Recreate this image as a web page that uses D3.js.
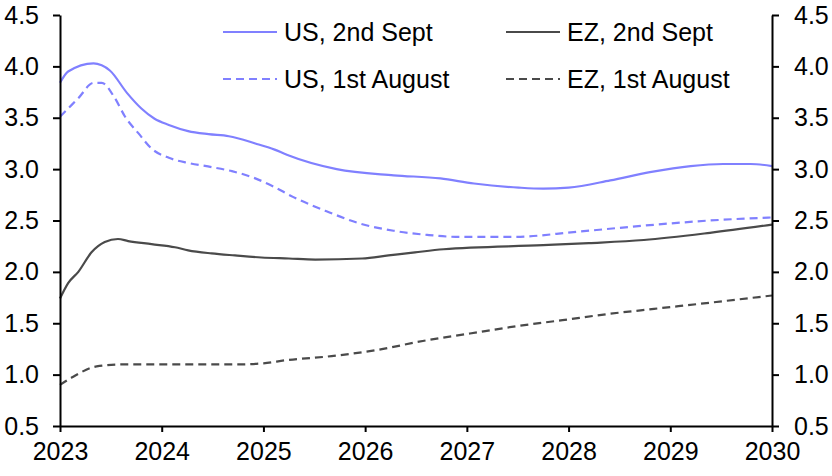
<!DOCTYPE html>
<html>
<head>
<meta charset="utf-8">
<script src="https://cdn.jsdelivr.net/npm/d3@7"></script>
<style>
  body { margin: 0; background: #fff; }
  text { font-family: "Liberation Sans", Arial, sans-serif; }
</style>
</head>
<body>
<script>
// Størrelse på svg
const w = 832;
const h = 476;
const margin = { top: 15, right: 60, bottom: 50, left: 60 };

// Data: [år, værdi]
const usSept = [
  [2023.0, 3.84], [2023.08, 3.95], [2023.33, 4.03], [2023.41, 4.01], [2023.49, 3.96],
  [2023.66, 3.74], [2023.80, 3.59], [2023.93, 3.49], [2024.07, 3.43], [2024.26, 3.37],
  [2024.46, 3.34], [2024.66, 3.32], [2024.92, 3.25], [2025.11, 3.19], [2025.23, 3.14],
  [2025.72, 3.00], [2026.28, 2.94], [2026.74, 2.91], [2027.07, 2.86], [2027.51, 2.82],
  [2027.75, 2.81], [2028.0, 2.82], [2028.41, 2.89], [2028.80, 2.97], [2029.20, 3.03],
  [2029.52, 3.05], [2029.79, 3.05], [2030.0, 3.03]
];
const usAug = [
  [2023.0, 3.51], [2023.18, 3.69], [2023.33, 3.84], [2023.41, 3.84], [2023.54, 3.69],
  [2023.64, 3.51], [2023.77, 3.35], [2023.90, 3.20], [2024.07, 3.11], [2024.26, 3.06],
  [2024.49, 3.02], [2024.69, 2.98], [2024.92, 2.91], [2025.10, 2.83], [2025.29, 2.73],
  [2025.62, 2.59], [2025.95, 2.47], [2026.28, 2.40], [2026.61, 2.36], [2026.93, 2.34],
  [2027.45, 2.34], [2028.08, 2.39], [2028.74, 2.45], [2029.39, 2.50], [2030.0, 2.53]
];
const ezSept = [
  [2023.0, 1.74], [2023.08, 1.89], [2023.18, 2.00], [2023.31, 2.19], [2023.44, 2.29],
  [2023.57, 2.32], [2023.67, 2.30], [2023.90, 2.27], [2024.13, 2.24], [2024.26, 2.21],
  [2024.49, 2.18], [2024.72, 2.16], [2024.98, 2.14], [2025.25, 2.13], [2025.51, 2.12],
  [2025.97, 2.13], [2026.23, 2.16], [2026.49, 2.19], [2026.77, 2.22], [2027.75, 2.26],
  [2028.2, 2.28], [2028.74, 2.31], [2029.39, 2.38], [2030.0, 2.46]
];
const ezAug = [
  [2023.0, 0.90], [2023.13, 0.98], [2023.36, 1.08], [2023.63, 1.10], [2024.31, 1.10],
  [2024.76, 1.10], [2025.0, 1.11], [2025.22, 1.14], [2025.67, 1.18], [2026.12, 1.24],
  [2026.58, 1.33], [2027.03, 1.40], [2027.48, 1.47], [2027.94, 1.53], [2028.39, 1.59],
  [2028.84, 1.64], [2029.30, 1.69], [2030.0, 1.77]
];

const yearTicks = [2023, 2024, 2025, 2026, 2027, 2028, 2029, 2030];
const valueTicks = [0.5, 1.0, 1.5, 2.0, 2.5, 3.0, 3.5, 4.0, 4.5];

const seriesNames = ["US, 2nd Sept", "US, 1st August", "EZ, 2nd Sept", "EZ, 1st August"];
const blue = "#8080ff";
const grey = "#4a4a4a";

const series = [
  { name: seriesNames[0], data: usSept, color: blue, dash: null },
  { name: seriesNames[1], data: usAug, color: blue, dash: "8,5" },
  { name: seriesNames[2], data: ezSept, color: grey, dash: null },
  { name: seriesNames[3], data: ezAug, color: grey, dash: "8,5" }
];

const svg = d3.select("body").append("svg").attr("width", w).attr("height", h);

const xScale = d3.scaleLinear()
  .domain([2023, 2030])
  .range([margin.left, w - margin.right]);

const yScale = d3.scaleLinear()
  .domain([0.5, 4.5])
  .range([h - margin.bottom, margin.top]);

const line = d3.line()
  .x(d => xScale(d[0]))
  .y(d => yScale(d[1]))
  .curve(d3.curveMonotoneX);

// Linjer
svg.selectAll("path.serie")
  .data(series)
  .enter()
  .append("path")
  .attr("class", "serie")
  .attr("d", d => line(d.data))
  .attr("fill", "none")
  .attr("stroke", d => d.color)
  .attr("stroke-width", 2.2)
  .attr("stroke-dasharray", d => d.dash);

// Akser
const fmt = d3.format(".1f");

const xAxis = d3.axisBottom(xScale).tickValues(yearTicks).tickFormat(d3.format("d"))
  .tickSizeInner(6).tickSizeOuter(0).tickPadding(10);
const yAxisL = d3.axisLeft(yScale).tickValues(valueTicks).tickFormat(fmt)
  .tickSizeInner(7).tickSizeOuter(0).tickPadding(14);
const yAxisR = d3.axisRight(yScale).tickValues(valueTicks).tickFormat(fmt)
  .tickSizeInner(7).tickSizeOuter(0).tickPadding(15);

function styleAxis(g) {
  g.selectAll("path, line").attr("stroke", "#000").attr("stroke-width", 2);
  g.selectAll("text").attr("fill", "#000").style("font-size", "25px")
    .style("font-family", "'Liberation Sans', Arial, sans-serif");
}

svg.append("g")
  .attr("transform", "translate(0," + (h - margin.bottom) + ")")
  .call(xAxis)
  .call(styleAxis);

svg.append("g")
  .attr("transform", "translate(" + margin.left + ",0)")
  .call(yAxisL)
  .call(styleAxis);

svg.append("g")
  .attr("transform", "translate(" + (w - margin.right) + ",0)")
  .call(yAxisR)
  .call(styleAxis);

// Forklaring
const legendPos = [
  { x: 223, y: 32 }, { x: 223, y: 79 },
  { x: 506, y: 32 }, { x: 506, y: 79 }
];

const legend = svg.selectAll("g.legend")
  .data(series)
  .enter()
  .append("g")
  .attr("class", "legend")
  .attr("transform", (d, i) => "translate(" + legendPos[i].x + "," + legendPos[i].y + ")");

legend.append("line")
  .attr("x1", 0).attr("x2", 54)
  .attr("y1", 0).attr("y2", 0)
  .attr("stroke", d => d.color)
  .attr("stroke-width", 2.2)
  .attr("stroke-dasharray", d => d.dash);

legend.append("text")
  .attr("x", 61)
  .attr("y", 9)
  .style("font-size", "25px")
  .attr("fill", "#000")
  .text(d => d.name);
</script>
</body>
</html>
